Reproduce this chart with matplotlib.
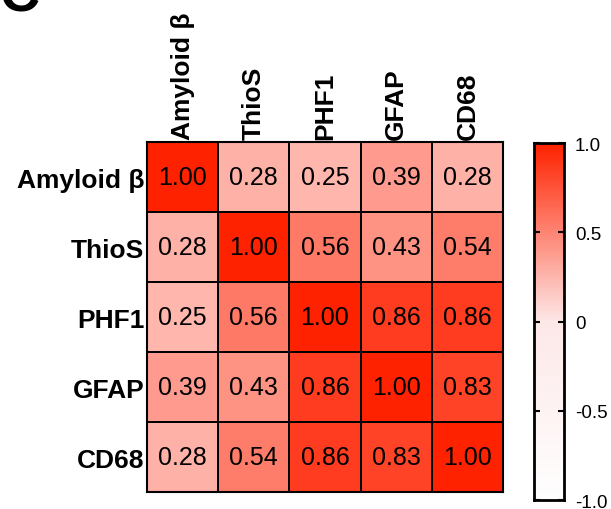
import numpy as np
import matplotlib.pyplot as plt
from matplotlib.colors import LinearSegmentedColormap, Normalize

plt.rcParams['font.family'] = ['Liberation Sans', 'DejaVu Sans']

# 数据
labels = ['Amyloid β', 'ThioS', 'PHF1', 'GFAP', 'CD68']
corr = np.array([
    [1.00, 0.28, 0.25, 0.39, 0.28],
    [0.28, 1.00, 0.56, 0.43, 0.54],
    [0.25, 0.56, 1.00, 0.86, 0.86],
    [0.39, 0.43, 0.86, 1.00, 0.83],
    [0.28, 0.54, 0.86, 0.83, 1.00],
])
cbar_ticks = [-1.0, -0.5, 0, 0.5, 1.0]
cbar_ticklabels = ['-1.0', '-0.5', '0', '0.5', '1.0']

# 白 -> 浅粉 -> 红
cmap = LinearSegmentedColormap.from_list(
    'wr', [(0.0, '#ffffff'), (0.5, '#fde8e8'), (1.0, '#ff2200')])
norm = Normalize(vmin=-1, vmax=1)

fig = plt.figure(figsize=(6.11, 5.10), dpi=100)
ax = fig.add_axes([0.2406, 0.0333, 0.5826, 0.6863])
n = len(labels)
ax.pcolormesh(np.arange(n + 1), np.arange(n + 1), corr, cmap=cmap, norm=norm,
              edgecolors='black', linewidth=1.2)
ax.set_xlim(0, n)
ax.set_ylim(n, 0)
for i in range(n):
    for j in range(n):
        ax.text(j + 0.5, i + 0.5, f'{corr[i, j]:.2f}', ha='center', va='center',
                fontsize=18, color='black')

ax.xaxis.tick_top()
ax.set_xticks(np.arange(n) + 0.5)
ax.set_xticklabels(labels, rotation=90, fontsize=19, fontweight='bold')
ax.set_yticks(np.arange(n) + 0.5)
ax.set_yticklabels(labels, fontsize=19, fontweight='bold')
ax.tick_params(length=0, pad=2)
for s in ax.spines.values():
    s.set_linewidth(1.5)

# 色条
cax = fig.add_axes([0.874, 0.0176, 0.049, 0.70])
grad = np.linspace(-1, 1, 256).reshape(-1, 1)
cax.imshow(grad, aspect='auto', cmap=cmap, norm=norm, origin='lower',
           extent=[0, 1, -1, 1])
cax.set_xticks([])
cax.set_yticks(cbar_ticks)
cax.set_yticklabels(cbar_ticklabels, fontsize=13.5)
cax.yaxis.tick_right()
cax.tick_params(axis='y', direction='in', length=4, width=1.5,
                left=True, right=True, labelleft=False, labelright=True, pad=8)
for s in cax.spines.values():
    s.set_linewidth(2)

# 面板字母（部分被裁掉）
fig.text(0.0, 1 - 12 / 510, 'C', fontsize=40, fontweight='bold',
         ha='left', va='baseline')

fig.savefig('out.png', dpi=100)
